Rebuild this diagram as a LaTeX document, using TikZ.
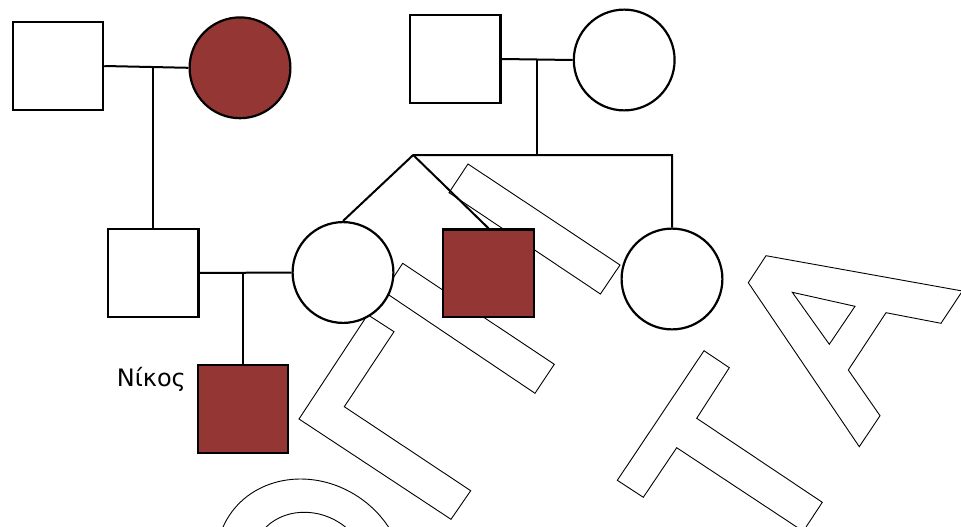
\documentclass[tikz,border=0pt]{standalone}
\usepackage{fontspec}
\setmainfont{DejaVu Sans}
\usetikzlibrary{calc}
\definecolor{affected}{RGB}{148,54,52}
\begin{document}
\begin{tikzpicture}[x=1pt,y=-1pt,
  male/.style={draw,line width=2.2pt,minimum width=90.3pt,minimum height=87.8pt,inner sep=0pt,fill=white},
  female/.style={circle,draw,line width=2.2pt,minimum size=100.8pt,inner sep=0pt,fill=white},
  aff/.style={fill=affected},
  link/.style={line width=2pt},
  wm/.style={line width=0.9pt}]
\useasboundingbox (0,0) rectangle (961,527);
% watermark outlines
\begin{scope}[wm]
\clip (0,0) rectangle (961,527);
\draw[rotate around={-33.5:(310.3,569)}] (310.3,569) ellipse [x radius=97.1pt, y radius=86.7pt];
\draw[rotate around={-33.5:(310.3,569)}] (310.3,569) ellipse [x radius=61.2pt, y radius=54.7pt];
\draw (299,419) -- (367.7,314.7) -- (394,331.7) -- (344.3,406.7) -- (470.7,490.7) -- (451,519.3) -- cycle;
\draw (402.7,263.3) -- (554.3,364.3) -- (535,393.3) -- (384,291.7) -- cycle;
\draw (468,164) -- (620,265) -- (600.4,294) -- (449,192.7) -- cycle;
\draw (704,350.7) -- (729.3,367.7) -- (696.7,418.3) -- (822.3,502.3) -- (803.2,531.3) -- (676.7,447.7) -- (643.3,497.3) -- (617.3,480.3) -- cycle;
\draw (766,255.7) -- (962.4,291) -- (941,323.3) -- (886,312.7) -- (848.3,370) -- (880,415.7) -- (859.3,446.7) -- (748.3,282.7) -- cycle;
\draw (792.3,292.3) -- (855,306.3) -- (829.3,344.3) -- cycle;
\end{scope}
% persons
\node[male] (S1) at (58,66) {};
\node[female,aff] (C1) at (240,67.8) {};
\node[male] (S2) at (153.3,273) {};
\node[female] (C2) at (343,272.5) {};
\node[male] (S3) at (455.3,59) {};
\node[female] (C3) at (624.2,60) {};
\node[male,aff] (S4) at (488.5,273.3) {};
\node[female] (C4) at (672,279) {};
\node[male,aff] (N) at (243,409.2) {};
\node[anchor=base east,inner sep=0pt,font=\fontsize{24}{28}\selectfont] (lbl) at (186,386) {Νίκος};
% connectors
\draw[link] (S1.east) -- (C1.west);
\draw[link] (S2.north) -- (S2.north |- S1.east);
\draw[link] (S2.east) -- (C2.west);
\draw[link] (N.north) -- (N.north |- S2.east);
\draw[link] (S3.east) -- (C3.west);
\coordinate (m3) at ($(S3.east)!0.5!(C3.west)$);
\coordinate (apex) at (413.2,155);
\draw[link] (m3) -- (m3 |- apex);
\draw[link] (C2.north) -- (apex) -- (C4.north |- apex) -- (C4.north);
\draw[link] (apex) -- (S4.north);
\end{tikzpicture}
\end{document}
